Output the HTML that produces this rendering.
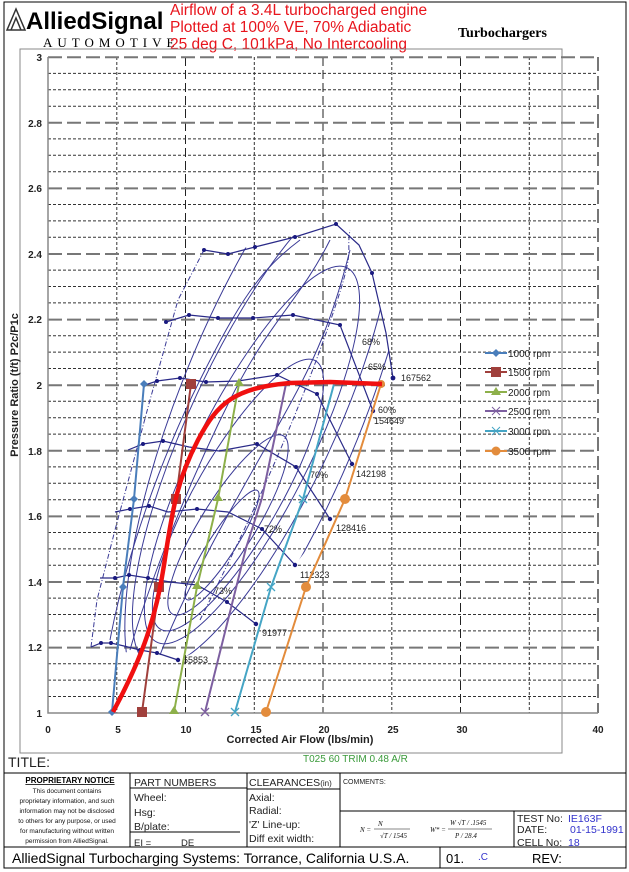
<!DOCTYPE html>
<html><head><meta charset="utf-8"><style>
body{margin:0;background:#fff;}
svg{display:block;font-family:"Liberation Sans",Arial,sans-serif;}
</style></head><body>
<svg width="629" height="872" viewBox="0 0 629 872" xmlns="http://www.w3.org/2000/svg">
<rect x="4" y="2" width="622" height="866" fill="#fff" stroke="#000" stroke-width="1"/>
<!-- header -->
<g fill="none" stroke="#333" stroke-width="1.5">
<path d="M7,30 L16,9 L25,30 Z"/><path d="M11,30 L16,18 L21,30"/>
</g>
<text x="26" y="29" font-size="24" font-weight="bold" fill="#000">AlliedSignal</text>
<text x="43" y="47" font-size="13" font-family="Liberation Serif,serif" letter-spacing="5" fill="#000">AUTOMOTIVE</text>
<text x="458" y="37" font-size="14" font-weight="bold" font-family="Liberation Serif,serif" fill="#000">Turbochargers</text>
<g fill="#e8141c" font-size="15.5">
<text x="170" y="15">Airflow of a 3.4L turbocharged engine</text>
<text x="170" y="32">Plotted at 100% VE, 70% Adiabatic</text>
<text x="170" y="49">25 deg C, 101kPa, No Intercooling</text>
</g>
<!-- chart frame -->
<rect x="20" y="49" width="542" height="704" fill="none" stroke="#888" stroke-width="1"/>
<!-- minor horizontal grid -->
<g stroke="#333" stroke-width="1" stroke-dasharray="3,2">
<path d="M48,73.4H598M48,89.8H598M48,106.2H598M48,138.9H598M48,155.3H598M48,171.7H598M48,204.5H598M48,220.9H598M48,237.3H598M48,270.1H598M48,286.5H598M48,302.9H598M48,335.7H598M48,352.1H598M48,368.5H598M48,401.3H598M48,417.7H598M48,434.1H598M48,466.9H598M48,483.3H598M48,499.7H598M48,532.5H598M48,548.9H598M48,565.3H598M48,598.1H598M48,614.5H598M48,630.9H598M48,663.7H598M48,680.1H598M48,696.5H598"/>
<path d="M116.8,57V713M254.3,57V713M391.8,57V713M529.3,57V713"/>
</g>
<g stroke="#222" stroke-width="1" stroke-dasharray="9,4">
<path d="M185.5,57V713M323,57V713M460.5,57V713"/>
</g>
<g stroke="#777" stroke-width="2" stroke-dasharray="14,5">
<path d="M48,57.2H598M48,122.8H598M48,188.4H598M48,254H598M48,319.6H598M48,385.2H598M48,450.8H598M48,516.4H598M48,582H598M48,647.6H598M598,57V713"/>
</g>
<path d="M48,57V713H598" fill="none" stroke="#888" stroke-width="1.5"/>
<!-- y labels -->
<g font-size="10" font-weight="bold" fill="#222" text-anchor="end">
<text x="42" y="61">3</text><text x="42" y="127">2.8</text><text x="42" y="192">2.6</text><text x="42" y="258">2.4</text><text x="42" y="323">2.2</text><text x="42" y="389">2</text><text x="42" y="455">1.8</text><text x="42" y="520">1.6</text><text x="42" y="586">1.4</text><text x="42" y="651">1.2</text><text x="42" y="717">1</text>
</g>
<g font-size="10" font-weight="bold" fill="#222" text-anchor="middle">
<text x="48" y="733">0</text><text x="118" y="733">5</text><text x="186" y="733">10</text><text x="256" y="733">15</text><text x="324" y="733">20</text><text x="393" y="733">25</text><text x="462" y="733">30</text><text x="598" y="733">40</text>
</g>
<text x="300" y="743" font-size="11" font-weight="bold" text-anchor="middle" fill="#222">Corrected Air Flow (lbs/min)</text>
<text transform="translate(18,385) rotate(-90)" font-size="11" font-weight="bold" text-anchor="middle" fill="#222">Pressure Ratio (t/t) P2c/P1c</text>
<!-- compressor map -->
<defs><clipPath id="env"><path d="M91,647 L97,600 L115,530 L150,400 L178,300 L204,250 L255,247 L336,224 L359,245 L372,273 L386,333 L393,378 L373,411 L352,464 L330,519 L295,565 L256,624 L178,660 Z"/></clipPath></defs>
<g fill="none" stroke="#3a3a96" stroke-width="1" clip-path="url(#env)">
<ellipse cx="222" cy="545" rx="65" ry="13" transform="rotate(-57 222 545)"/>
<ellipse cx="228" cy="525" rx="105" ry="27" transform="rotate(-58 228 525)"/>
<ellipse cx="238" cy="495" rx="155" ry="42" transform="rotate(-60 238 495)"/>
<ellipse cx="252" cy="455" rx="210" ry="56" transform="rotate(-63 252 455)"/>
<ellipse cx="262" cy="425" rx="265" ry="72" transform="rotate(-65 262 425)"/>
<ellipse cx="272" cy="405" rx="320" ry="92" transform="rotate(-68 272 405)"/>
<path d="M110,640 C125,560 160,460 200,380 S260,270 300,240"/>
<path d="M130,650 C150,580 190,480 230,400 S300,300 330,240"/>
<path d="M160,655 C185,590 230,510 270,440 S330,330 350,250"/>
</g>
<g fill="none" stroke="#3a3a96" stroke-width="1" stroke-dasharray="5,2,1,2">
<path d="M91,647 L97,600 L115,530 L150,400 L178,300 L204,250"/>
<path d="M200,620 C230,560 280,460 320,350 S345,260 350,230"/>
</g>
<g fill="none" stroke="#2a2a88" stroke-width="1.2">
<path d="M91,647 L101,643 L111,643 L124,646 L140,650 L157,653 L178,660"/>
<path d="M100,578 L115,578 L129,575 L148,578 L170,582 L197,585 L227,602 L256,624"/>
<path d="M115,512 L130,509 L149,506 L168,512 L197,509 L228,512 L262,529 L295,565"/>
<path d="M128,450 L143,444 L163,441 L189,447 L219,451 L257,444 L296,467 L330,519"/>
<path d="M145,385 L157,381 L180,378 L206,382 L238,381 L277,375 L317,394 L352,464"/>
<path d="M166,322 L189,315 L218,318 L253,318 L293,315 L340,325 L373,411"/>
<path d="M204,250 L228,254 L255,247 L295,237 L336,224 L359,245 L372,273 L386,333 L393,378"/>
</g>
<g fill="#1a1a80">
<circle cx="178" cy="660" r="2.2"/><circle cx="157" cy="653" r="2"/><circle cx="140" cy="650" r="2"/><circle cx="111" cy="643" r="2"/><circle cx="101" cy="643" r="2"/>
<circle cx="256" cy="624" r="2.2"/><circle cx="227" cy="602" r="2"/><circle cx="129" cy="575" r="2"/><circle cx="148" cy="578" r="2"/><circle cx="115" cy="578" r="2"/>
<circle cx="295" cy="565" r="2.2"/><circle cx="262" cy="529" r="2"/><circle cx="130" cy="509" r="2"/><circle cx="149" cy="506" r="2"/><circle cx="197" cy="509" r="2"/>
<circle cx="330" cy="519" r="2.2"/><circle cx="296" cy="467" r="2"/><circle cx="143" cy="444" r="2"/><circle cx="163" cy="441" r="2"/><circle cx="257" cy="444" r="2"/>
<circle cx="352" cy="464" r="2.2"/><circle cx="317" cy="394" r="2"/><circle cx="157" cy="381" r="2"/><circle cx="180" cy="378" r="2"/><circle cx="206" cy="382" r="2"/><circle cx="277" cy="375" r="2"/>
<circle cx="373" cy="411" r="2.2"/><circle cx="340" cy="325" r="2"/><circle cx="166" cy="322" r="2"/><circle cx="189" cy="315" r="2"/><circle cx="218" cy="318" r="2"/><circle cx="253" cy="318" r="2"/><circle cx="293" cy="315" r="2"/>
<circle cx="393" cy="378" r="2.4"/><circle cx="372" cy="273" r="2"/><circle cx="336" cy="224" r="2"/><circle cx="295" cy="237" r="2"/><circle cx="255" cy="247" r="2"/><circle cx="228" cy="254" r="2"/><circle cx="204" cy="250" r="2"/>
</g>
<g font-size="9" fill="#222">
<text x="183" y="663">65853</text><text x="262" y="636">91977</text><text x="300" y="578">112323</text><text x="336" y="531">128416</text><text x="356" y="477">142198</text><text x="374" y="424">154649</text><text x="401" y="381">167562</text>
<text x="378" y="413">60%</text><text x="365" y="370">-65%</text><text x="362" y="345">68%</text><text x="310" y="478">70%</text><text x="264" y="532">72%</text><text x="214" y="594">73%</text>
</g>
<!-- rpm lines -->
<polyline points="112,712 123,587 134,499 144,384" fill="none" stroke="#4a7ebb" stroke-width="2"/>
<polyline points="142,712 159,587 176,499 191,384" fill="none" stroke="#a0403c" stroke-width="2"/>
<polyline points="174,712 197,587 218,499 239,384" fill="none" stroke="#8db04a" stroke-width="2"/>
<polyline points="205,712 246,548 262,498 286,384" fill="none" stroke="#7d5fa0" stroke-width="2"/>
<polyline points="235,712 271,587 303,499 334,384" fill="none" stroke="#45a5c5" stroke-width="2"/>
<polyline points="266,712 306,587 345,499 381,384" fill="none" stroke="#e38c3c" stroke-width="2"/>
<g fill="#4a7ebb"><path d="M112,708l4,4-4,4-4-4z"/><path d="M123,583l4,4-4,4-4-4z"/><path d="M134,495l4,4-4,4-4-4z"/><path d="M144,380l4,4-4,4-4-4z"/></g>
<g fill="#a0403c"><rect x="137" y="707" width="10" height="10"/><rect x="154" y="582" width="10" height="10"/><rect x="171" y="494" width="10" height="10"/><rect x="186" y="379" width="10" height="10"/></g>
<g fill="#8db04a"><path d="M174,706l5,8h-10z"/><path d="M197,581l5,8h-10z"/><path d="M218,493l5,8h-10z"/><path d="M239,378l5,8h-10z"/></g>
<g stroke="#7d5fa0" stroke-width="1.3"><path d="M201,708l8,8M209,708l-8,8"/></g>
<g stroke="#45a5c5" stroke-width="1.3"><path d="M231,708l8,8M239,708l-8,8M267,583l8,8M275,583l-8,8M299,495l8,8M307,495l-8,8"/></g>
<g fill="#e38c3c"><circle cx="266" cy="712" r="5"/><circle cx="306" cy="587" r="5"/><circle cx="345" cy="499" r="5"/><circle cx="381" cy="384" r="4"/></g>
<!-- red line -->
<path d="M113,712 C138,665 155,625 164,565 S178,478 198,440 S235,388 290,383 L330,382 L382,384" fill="none" stroke="#f01010" stroke-width="4.5"/>
<!-- legend -->
<g font-size="10" fill="#222">
<path d="M485,353H507" stroke="#4a7ebb" stroke-width="2"/><path d="M496,349l4,4-4,4-4-4z" fill="#4a7ebb"/><text x="508" y="357">1000 rpm</text>
<path d="M485,372H507" stroke="#a0403c" stroke-width="2"/><rect x="491" y="367" width="10" height="10" fill="#a0403c"/><text x="508" y="376">1500 rpm</text>
<path d="M485,392H507" stroke="#8db04a" stroke-width="2"/><path d="M496,387l5,8h-10z" fill="#8db04a"/><text x="508" y="396">2000 rpm</text>
<path d="M485,411H507" stroke="#7d5fa0" stroke-width="2"/><path d="M492,407l8,8M500,407l-8,8" stroke="#7d5fa0"/><text x="508" y="415">2500 rpm</text>
<path d="M485,431H507" stroke="#45a5c5" stroke-width="2"/><path d="M492,427l8,8M500,427l-8,8" stroke="#45a5c5"/><text x="508" y="435">3000 rpm</text>
<path d="M485,451H507" stroke="#e38c3c" stroke-width="2"/><circle cx="496" cy="451" r="4.5" fill="#e38c3c"/><text x="508" y="455">3500 rpm</text>
</g>
<!-- title block -->
<text x="303" y="762" font-size="10" fill="#3a9a3a">T025 60 TRIM  0.48 A/R</text>
<text x="8" y="767" font-size="14" fill="#222">TITLE:</text>
<g stroke="#000" stroke-width="1" fill="none">
<path d="M4,773H626M4,847H626M340,811H626M130,773V847M247,773V847M340,773V847M514,811V847M440,847V868M130,788H247M247,789H340M130,832H240"/>
</g>
<text x="70" y="783" font-size="8" font-weight="bold" text-decoration="underline" text-anchor="middle">PROPRIETARY NOTICE</text>
<g font-size="6.5" text-anchor="middle" fill="#111">
<text x="67" y="793">This document contains</text><text x="67" y="803">proprietary information, and such</text><text x="67" y="813">information may not be disclosed</text><text x="67" y="823">to others for any purpose, or used</text><text x="67" y="833">for manufacturing without written</text><text x="67" y="843">permission from AlliedSignal.</text>
</g>
<g font-size="10.5" fill="#222">
<text x="134" y="786">PART NUMBERS</text><text x="134" y="801">Wheel:</text><text x="134" y="816">Hsg:</text><text x="134" y="830">B/plate:</text><text x="134" y="846" font-size="9.5">EI =</text><text x="181" y="846" font-size="9.5">DE</text>
<text x="249" y="786">CLEARANCES<tspan font-size="8">(in)</tspan></text><text x="249" y="801">Axial:</text><text x="249" y="814">Radial:</text><text x="249" y="828">'Z' Line-up:</text><text x="249" y="842">Diff exit width:</text>
<text x="343" y="784" font-size="7">COMMENTS:</text>
<text x="517" y="822">TEST No:</text><text x="517" y="833">DATE:</text><text x="517" y="846">CELL No:</text>
</g>
<g font-size="10.5" fill="#3333cc"><text x="568" y="822">IE163F</text><text x="570" y="833">01-15-1991</text><text x="568" y="846">18</text></g>
<g font-size="7" font-family="Liberation Serif,serif" font-style="italic" fill="#111">
<text x="360" y="832">N =</text><text x="378" y="826">N</text><path d="M374,829H410" stroke="#111" stroke-width="0.6"/><text x="380" y="838">√T / 1545</text>
<text x="430" y="832">W* =</text><text x="450" y="825">W √T / .1545</text><path d="M448,829H492" stroke="#111" stroke-width="0.6"/><text x="455" y="838">P / 28.4</text>
</g>
<text x="12" y="863" font-size="14" fill="#000">AlliedSignal Turbocharging Systems: Torrance, California U.S.A.</text>
<text x="446" y="863" font-size="13" fill="#000">01.</text><text x="478" y="860" font-size="10" fill="#3333cc">.C</text><text x="532" y="863" font-size="13" fill="#000">REV:</text>
</svg>
</body></html>
